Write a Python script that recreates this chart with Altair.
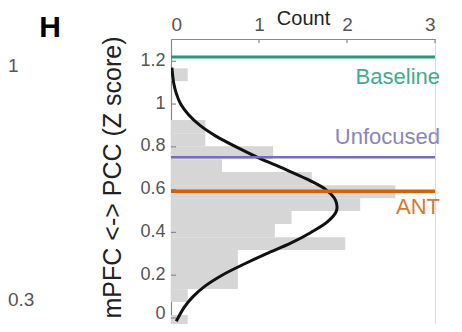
import altair as alt
import pandas as pd

# ---- data ----
# horizontal histogram bins (Z score edges) and bar lengths (count axis)
bin_lo = [-0.047, 0.014, 0.075, 0.135, 0.196, 0.257, 0.318, 0.378, 0.439, 0.500,
          0.560, 0.621, 0.682, 0.742, 0.803, 0.864, 0.925, 0.985, 1.046, 1.107]
bin_hi = [0.014, 0.075, 0.135, 0.196, 0.257, 0.318, 0.378, 0.439, 0.500, 0.560,
          0.621, 0.682, 0.742, 0.803, 0.864, 0.925, 0.985, 1.046, 1.107, 1.167]
bin_count = [0.19, 0.0, 0.19, 0.76, 0.76, 0.76, 1.98, 1.18, 1.37, 2.15,
             2.55, 1.60, 0.58, 1.16, 0.39, 0.39, 0.0, 0.0, 0.0, 0.19]

# fitted density curve
curve_z = [-0.015, 0.05, 0.10, 0.15, 0.20, 0.25, 0.30, 0.35, 0.40, 0.45, 0.50,
           0.55, 0.60, 0.65, 0.70, 0.75, 0.80, 0.85, 0.90, 0.95, 1.00, 1.05, 1.10, 1.17]
curve_count = [0.06, 0.15, 0.25, 0.39, 0.58, 0.82, 1.08, 1.36, 1.59, 1.78, 1.88,
               1.87, 1.76, 1.54, 1.27, 0.99, 0.74, 0.51, 0.33, 0.20, 0.11, 0.06, 0.03, 0.01]

# reference lines
line_names = ["Baseline", "Unfocused", "ANT"]
line_values = [1.22, 0.751, 0.592]
line_colors = ["#1b9e77", "#7570b3", "#d95f02"]
line_widths = [3.0, 2.5, 3.5]

x_ticks = [0, 1, 2, 3]
y_ticks = [0, 0.2, 0.4, 0.6, 0.8, 1.0, 1.2]

FONT = "Liberation Sans"

hist = pd.DataFrame({"lo": bin_lo, "hi": bin_hi, "count": bin_count,
                     "base": [0] * len(bin_lo)})
curve = pd.DataFrame({"z": curve_z, "count": curve_count,
                      "i": list(range(len(curve_z)))})
lines = pd.DataFrame({"name": line_names, "z": line_values})
yt = pd.DataFrame({"t": y_ticks})
xt = pd.DataFrame({"t": x_ticks[1:]})

W, H = 264, 285
xscale = alt.Scale(domain=[0, 3], nice=False, zero=False)
yscale = alt.Scale(domain=[-0.028, 1.304], nice=False, zero=False)

x_axis = alt.Axis(orient="top", values=x_ticks, format="d", tickSize=0,
                  labelFontSize=19, labelColor="#555555", labelPadding=5,
                  domainColor="#8a8a8a", domainWidth=1.2, grid=False,
                  title="Count", titleFontSize=20, titleFontWeight="normal",
                  titleColor="#222222", titleY=-15, titleBaseline="alphabetic")
y_axis = alt.Axis(values=y_ticks, format="~g", tickSize=0, labelFontSize=18,
                  labelOffset={"condition": {"test": "datum.value == 0", "value": -5},
                               "value": -1},
                  labelColor="#555555", labelPadding=6, domainColor="#8a8a8a",
                  domainWidth=1.2, grid=False,
                  title="mPFC <-> PCC (Z score)", titleFontSize=25,
                  titleFontWeight="normal", titleColor="#222222",
                  titleAngle=270, titleX=-59, titleY=138,
                  titleAlign="center", titleBaseline="middle")

bars = alt.Chart(hist).mark_bar(color="#d6d6d6", clip=True).encode(
    x=alt.X("base:Q", scale=xscale, axis=x_axis),
    x2="count:Q",
    y=alt.Y("lo:Q", scale=yscale, axis=y_axis),
    y2="hi:Q",
)

curve_line = alt.Chart(curve).mark_line(
    color="#111111", strokeWidth=3, interpolate="catmull-rom", clip=True
).encode(
    x=alt.X("count:Q", scale=xscale),
    y=alt.Y("z:Q", scale=yscale),
    order="i:Q",
)

ytick_marks = alt.Chart(yt).mark_rule(color="#8a8a8a", strokeWidth=1.2).encode(
    y=alt.Y("t:Q", scale=yscale), x=alt.value(0), x2=alt.value(5)
)
xtick_marks = alt.Chart(xt).mark_rule(color="#8a8a8a", strokeWidth=1.2).encode(
    x=alt.X("t:Q", scale=xscale), y=alt.value(0), y2=alt.value(4)
)

layers = [bars, curve_line, ytick_marks, xtick_marks]

label_dy = {"Baseline": 20, "Unfocused": -20, "ANT": 16}
for name, col, sw in zip(line_names, line_colors, line_widths):
    sub = lines[lines["name"] == name]
    layers.append(
        alt.Chart(sub).mark_rule(color=col, strokeWidth=sw).encode(
            y=alt.Y("z:Q", scale=yscale)
        )
    )
    layers.append(
        alt.Chart(sub).mark_text(
            color=col, opacity=0.85, fontSize=22, font=FONT, align="right",
            baseline="middle", dx=5, dy=label_dy[name]
        ).encode(
            x=alt.datum(3, scale=xscale),
            y=alt.Y("z:Q", scale=yscale),
            text="name:N",
        )
    )

# panel letter and neighbouring colour-bar labels
notes = pd.DataFrame({"txt": ["H"]})
layers.append(alt.Chart(notes).mark_text(
    fontSize=30, fontWeight="bold", font=FONT, color="#000000",
    align="center", baseline="top"
).encode(x=alt.value(-121), y=alt.value(-26), text="txt:N"))

cb_top = pd.DataFrame({"txt": ["1"]})
layers.append(alt.Chart(cb_top).mark_text(
    fontSize=19, font=FONT, color="#555555", align="left", baseline="middle"
).encode(x=alt.value(-163), y=alt.value(27), text="txt:N"))
cb_bot = pd.DataFrame({"txt": ["0.3"]})
layers.append(alt.Chart(cb_bot).mark_text(
    fontSize=19, font=FONT, color="#555555", align="left", baseline="middle"
).encode(x=alt.value(-163), y=alt.value(261), text="txt:N"))

chart = alt.layer(*layers).properties(
    width=W, height=H,
    autosize=alt.AutoSizeParams(type="none"),
    padding={"left": 163, "top": 31, "right": 19, "bottom": 0},
).configure_view(stroke=None).configure_axis(
    labelFont=FONT, titleFont=FONT
).configure(background="white")

chart.save("out.html", embed_options={"renderer": "svg", "actions": False})
